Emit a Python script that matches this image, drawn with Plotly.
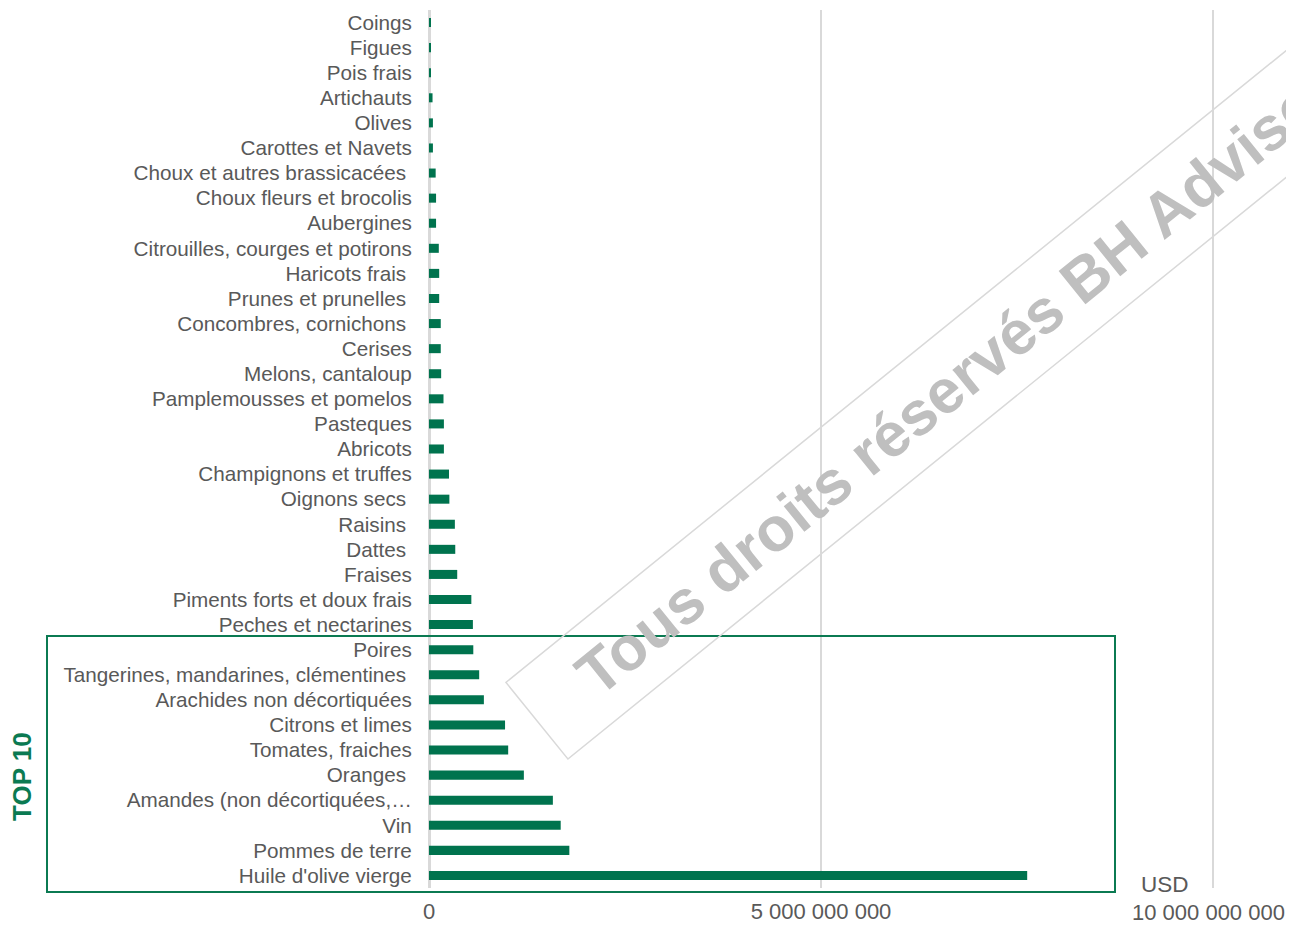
import plotly.graph_objects as go

# Categories (bottom -> top) and export values in USD
categories = [
    "Huile d'olive vierge", "Pommes de terre", "Vin", "Amandes (non décortiquées,…",
    "Oranges ", "Tomates, fraiches", "Citrons et limes", "Arachides non décortiquées",
    "Tangerines, mandarines, clémentines ", "Poires", "Peches et nectarines",
    "Piments forts et doux frais", "Fraises", "Dattes ", "Raisins ", "Oignons secs ",
    "Champignons et truffes", "Abricots", "Pasteques", "Pamplemousses et pomelos",
    "Melons, cantaloup", "Cerises", "Concombres, cornichons ", "Prunes et prunelles ",
    "Haricots frais ", "Citrouilles, courges et potirons", "Aubergines",
    "Choux fleurs et brocolis", "Choux et autres brassicacées ", "Carottes et Navets",
    "Olives", "Artichauts", "Pois frais", "Figues", "Coings",
]
values_busd = [
    7.63, 1.79, 1.68, 1.58, 1.21, 1.01, 0.97, 0.70, 0.64, 0.565, 0.56,
    0.54, 0.36, 0.335, 0.33, 0.26, 0.255, 0.19, 0.19, 0.185, 0.155, 0.15,
    0.15, 0.13, 0.13, 0.125, 0.09, 0.09, 0.085, 0.05, 0.05, 0.045, 0.025, 0.02, 0.02,
]
values = [v * 1e9 for v in values_busd]
x_ticks = [0, 5e9, 1e10]
x_ticktext = ["0", "5 000 000 000", ""]
last_tick_label = "10 000 000 000"

OFF = 8  # page body margin
W, H = 1294 - 2 * OFF, 925 - OFF
# plot area in screen pixels: x 429..1216 (0 at 429, 1e10 at 1213), y 10..888
X0, X1, Y0, Y1 = 429, 1216, 10, 888
L, T = X0 - OFF, Y0 - OFF
R = W - (X1 - OFF)
B = H - (Y1 - OFF)
pw, ph = W - L - R, H - T - B
x_max = 1e10 * (X1 - X0) / (1213 - X0)


def px(x):
    return (x - X0) / pw


def py(y):
    return (Y1 - y) / ph


GREEN = "#00734E"
TXT = "#595959"
FONT = "Liberation Sans, Arial, sans-serif"
PAD = "\u00a0\u00a0\u2009"

fig = go.Figure(go.Bar(
    x=values, y=categories, orientation="h",
    marker=dict(color=GREEN, line=dict(width=0)),
    width=0.36,
))

fig.update_layout(
    width=W, height=H,
    margin=dict(l=L, r=R, t=T, b=B, autoexpand=False),
    plot_bgcolor="white", paper_bgcolor="white",
    showlegend=False,
    font=dict(family=FONT, color=TXT),
    xaxis=dict(
        range=[0, x_max], tickvals=x_ticks, ticktext=x_ticktext,
        showgrid=True, gridcolor="#D9D9D9", gridwidth=1.5,
        zeroline=True, zerolinecolor="#D9D9D9", zerolinewidth=2.5,
        showline=False, ticks="outside", ticklen=4, tickcolor="rgba(0,0,0,0)",
        tickfont=dict(size=22, color=TXT), ticklabeloverflow="allow",
        automargin=False, fixedrange=True,
    ),
    yaxis=dict(
        type="category", showgrid=False, zeroline=False, showline=False,
        ticks="outside", ticklen=12, tickcolor="rgba(0,0,0,0)",
        tickfont=dict(size=20.7, color=TXT), automargin=False,
        range=[-0.5, len(categories) - 0.5],
    ),
    shapes=[dict(
        type="rect", xref="paper", yref="paper",
        x0=px(47), x1=px(1115), y0=py(892), y1=py(636),
        line=dict(color="#0B7A52", width=2), fillcolor="rgba(0,0,0,0)",
        layer="above",
    )],
    annotations=[
        dict(text=last_tick_label, xref="paper", yref="paper", x=px(1287), y=py(912),
             xanchor="right", yanchor="middle", showarrow=False,
             font=dict(size=22, color=TXT, family=FONT)),
        dict(text="<b>TOP 10</b>", xref="paper", yref="paper", x=px(22), y=py(777),
             xanchor="center", yanchor="middle",
             showarrow=False, textangle=-90, font=dict(size=26, color="#0B7A52", family=FONT)),
        dict(text="USD", xref="paper", yref="paper", x=px(1165), y=py(884),
             xanchor="center", yanchor="middle",
             showarrow=False, font=dict(size=22.5, color=TXT, family=FONT)),
        dict(text=PAD + "<b>Tous droits réservés BH Advisory</b>" + PAD,
             xref="paper", yref="paper", x=px(970), y=py(370),
             xanchor="center", yanchor="middle",
             showarrow=False, textangle=-39.0,
             font=dict(size=62, color="#BFBFBF", family=FONT),
             bordercolor="#D9D9D9", borderwidth=1.5, borderpad=14),
    ],
)

fig.write_html("out.html")
